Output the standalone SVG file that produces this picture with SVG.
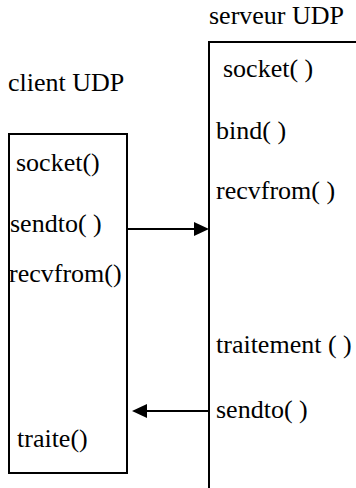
<svg xmlns="http://www.w3.org/2000/svg" width="356" height="488" viewBox="0 0 356 488">
<style>
text{font-family:'Liberation Serif','DejaVu Serif','Noto Serif',serif;font-size:26px;fill:#000}
.box{fill:none;stroke:#000;stroke-width:2}
.conn{stroke:#000;stroke-width:2;fill:none}
</style>
<rect width="356" height="488" fill="#fff"/>
<g id="client" font-family="Liberation Serif, serif">
<text x="8" y="91">client UDP</text>
<rect class="box" x="9" y="134" width="118" height="339"/>
<text x="16" y="171">socket()</text>
<text x="10" y="232">sendto( )</text>
<text x="9" y="282">recvfrom()</text>
<text x="17" y="447">traite()</text>
</g>
<g id="serveur" font-family="Liberation Serif, serif">
<text x="209" y="24">serveur UDP</text>
<path class="box" d="M357,42 H209 V489"/>
<text x="223" y="77">socket( )</text>
<text x="216" y="139">bind( )</text>
<text x="216" y="199">recvfrom( )</text>
<text x="216" y="353">traitement ( )</text>
<text x="216" y="418">sendto( )</text>
</g>
<g id="connectors">
<line class="conn" x1="128" y1="229" x2="194" y2="229"/>
<path d="M194,222 L209,229 L194,236 z"/>
<line class="conn" x1="209" y1="411" x2="147" y2="411"/>
<path d="M147,404 L132,411 L147,418 z"/>
</g>
</svg>
